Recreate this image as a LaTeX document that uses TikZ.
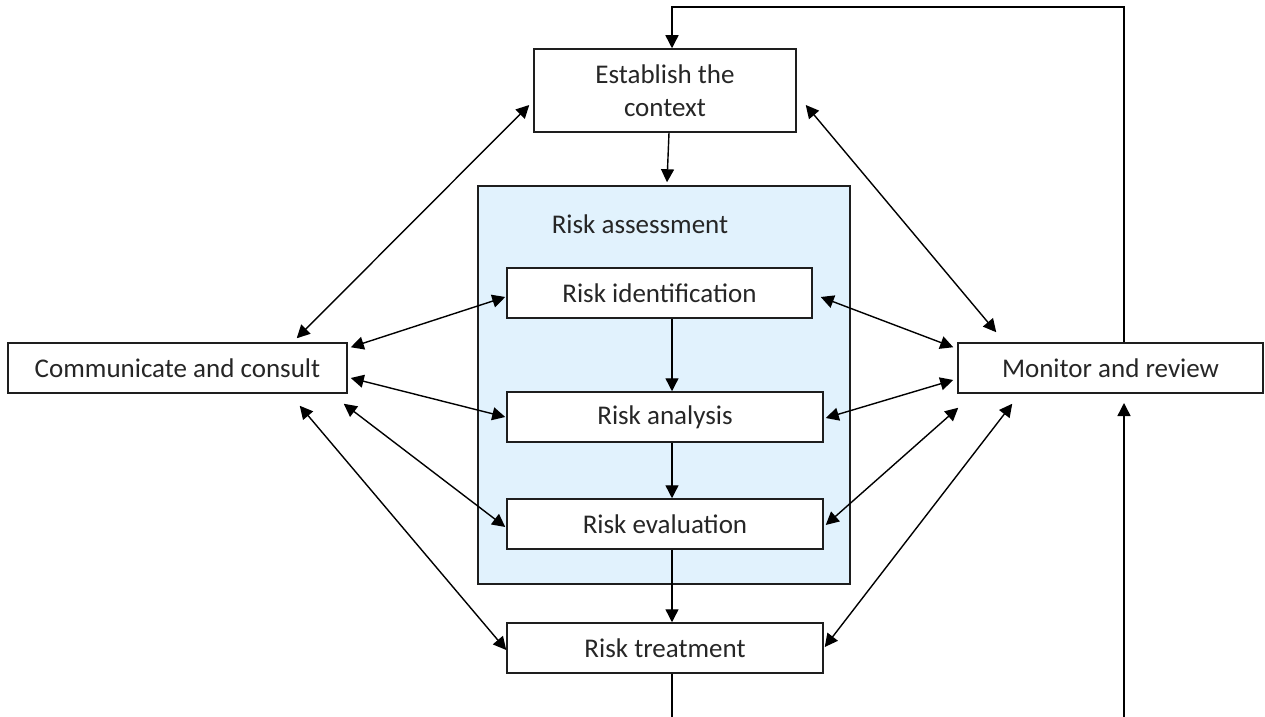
\documentclass[tikz,border=0pt]{standalone}
\usepackage{fontspec}
\setmainfont{Carlito}
\usetikzlibrary{arrows.meta,calc}
\definecolor{assessblue}{HTML}{E1F2FD}
\definecolor{boxline}{HTML}{1E1E1E}
\definecolor{txt}{HTML}{262626}
\begin{document}
\begin{tikzpicture}[x=0.5pt,y=-0.5pt,
  lbl/.style={text=txt,font=\fontsize{13.5pt}{16.5pt}\selectfont},
  box/.style={lbl,draw=boxline,line width=0.75pt,fill=white,inner sep=0pt,align=center},
  conn/.style={line width=0.7pt,-{Triangle[length=6.5pt,width=6.5pt]}},
  dbl/.style={line width=0.7pt,{Triangle[length=6.5pt,width=6.5pt]}-{Triangle[length=6.5pt,width=6.5pt]}},
  ]
\useasboundingbox (0,0) rectangle (1265,717);
% nodes
\node[box,minimum width=262*0.5pt,minimum height=83*0.5pt] (est) at (665,90.5) {Establish the\\context};
\node[draw=boxline,line width=0.75pt,fill=assessblue,minimum width=372*0.5pt,minimum height=398*0.5pt,inner sep=0pt] (assess) at (664,385) {};
\node[lbl] (assesslbl) at (640,224) {Risk assessment};
\node[box,minimum width=305*0.5pt,minimum height=50*0.5pt] (rid) at (659.5,293) {Risk identification};
\node[box,minimum width=316*0.5pt,minimum height=50*0.5pt] (ran) at (665,417) {Risk analysis};
\node[box,minimum width=316*0.5pt,minimum height=50*0.5pt] (rev) at (665,524) {Risk evaluation};
\node[box,minimum width=316*0.5pt,minimum height=50*0.5pt] (rtr) at (665,648) {Risk treatment};
\node[box,minimum width=339*0.5pt,minimum height=50*0.5pt] (comm) at (177.5,368) {Communicate and consult};
\node[box,minimum width=305*0.5pt,minimum height=50*0.5pt] (mon) at (1110.5,368) {Monitor and review};
% coordinates for the feedback loop
\coordinate (montop) at ($(mon.north)+(13.5,0)$);
\coordinate (topright) at (1124,7);
\coordinate (topleft) at (672,7);
\coordinate (esttop) at ($(est.north)+(7,0)$);
\coordinate (bottomL) at (672,717);
\coordinate (bottomR) at (1124,717);
\coordinate (monbot) at (1124,403);
% vertical flow
\draw[conn] ($(est.south)+(4,0)$) -- ($(assess.north)+(3,-3)$);
\draw[conn] ($(rid.south)+(12.5,0)$) -- ($(ran.north)+(7,0)$);
\draw[conn] ($(ran.south)+(7,0)$) -- ($(rev.north)+(7,0)$);
\draw[conn] ($(rev.south)+(7,0)$) -- ($(rtr.north)+(7,0)$);
\draw[line width=0.7pt] ($(rtr.south)+(7,0)$) -- (bottomL);
\draw[conn] (bottomR) -- (monbot);
\draw[conn] (montop) -- (topright) -- (topleft) -- (esttop);
% left side double arrows
\draw[dbl] ($(comm.north east)+(-51,-4)$) -- ($(est.west)+(-4,14.5)$);
\draw[dbl] ($(comm.north east)+(3,5)$) -- ($(rid.west)+(-1,4)$);
\draw[dbl] ($(comm.east)+(3,10)$) -- ($(ran.west)+(-1,0)$);
\draw[dbl] ($(comm.south east)+(-4,10)$) -- ($(rev.west)+(-1,3)$);
\draw[dbl] ($(comm.south east)+(-48,12)$) -- ($(rtr.west)+(0,2)$);
% right side double arrows
\draw[dbl] ($(est.east)+(9,14.5)$) -- ($(mon.north west)+(39,-10)$);
\draw[dbl] ($(rid.east)+(8,4)$) -- ($(mon.north west)+(-4,5)$);
\draw[dbl] ($(ran.east)+(2,1)$) -- ($(mon.west)+(-4,12)$);
\draw[dbl] ($(rev.east)+(2,1)$) -- ($(mon.south west)+(1,14)$);
\draw[dbl] ($(rtr.east)+(1,-1)$) -- ($(mon.south west)+(55,10)$);
\end{tikzpicture}
\end{document}
